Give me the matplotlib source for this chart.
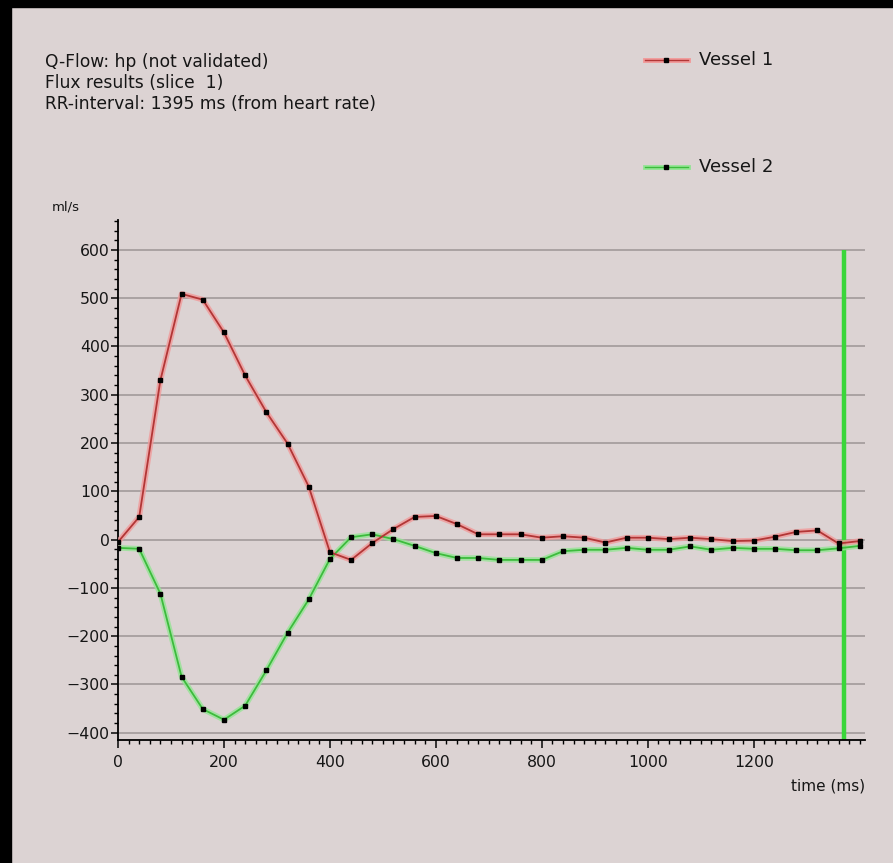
import matplotlib
matplotlib.use("Agg")
import matplotlib.pyplot as plt
from matplotlib.patches import Rectangle
from matplotlib.lines import Line2D
from matplotlib.ticker import MultipleLocator

plt.rcParams["font.family"] = ["DejaVu Sans"]

# phase times (ms)
time_ms = [0, 40, 80, 120, 160, 200, 240, 280, 320, 360, 400, 440,
           480, 520, 560, 600, 640, 680, 720, 760, 800, 840, 880, 920,
           960, 1000, 1040, 1080, 1120, 1160, 1200, 1240, 1280, 1320, 1360, 1400]

# flow (ml/s)
vessel1 = [-5, 47, 330, 509, 497, 429, 340, 264, 199, 110, -26, -42,
           -7, 22, 47, 49, 32, 11, 11, 11, 4, 7, 4, -6,
           4, 4, 1, 4, 1, -3, -2, 6, 16, 19, -8, -3]
vessel2 = [-17, -19, -112, -284, -351, -373, -344, -271, -193, -124, -40, 5,
           11, 1, -13, -28, -38, -38, -42, -42, -42, -24, -21, -21,
           -17, -21, -21, -14, -21, -17, -19, -19, -22, -22, -18, -13]

cursor_time = 1370
cursor_top = 600

header = ["Q-Flow: hp (not validated)",
          "Flux results (slice  1)",
          "RR-interval: 1395 ms (from heart rate)"]
series_names = ["Vessel 1", "Vessel 2"]

BG = "#dcd3d3"
RED_CORE, RED_HALO = "#b23636", "#f19a9a"
GRN_CORE, GRN_HALO = "#3cbc3c", "#95e495"
TXT = "#161616"

W, H = 893, 863
fig = plt.figure(figsize=(W / 100, H / 100), dpi=100)
fig.patch.set_facecolor(BG)

# overlay in pixel coords for frame, header and legend
ov = fig.add_axes([0, 0, 1, 1], zorder=0)
ov.set_xlim(0, W)
ov.set_ylim(H, 0)
ov.axis("off")
ov.add_patch(Rectangle((0, 0), W, 7, color="black"))
ov.add_patch(Rectangle((0, 0), 11, H, color="black"))

for i, t in enumerate(header):
    ov.text(45, 62 + i * 21, t, fontsize=12.3, color=TXT, ha="left", va="center")

for name, y, core, halo in [(series_names[0], 60, RED_CORE, RED_HALO),
                            (series_names[1], 167, GRN_CORE, GRN_HALO)]:
    ov.add_line(Line2D([645, 688], [y, y], color=halo, lw=3.5))
    ov.add_line(Line2D([645, 688], [y, y], color=core, lw=1.0))
    ov.plot([666], [y], "s", color="black", ms=2.2)
    ov.text(699, y, name, fontsize=13, color=TXT, ha="left", va="center")

ov.text(52, 207, "ml/s", fontsize=9.5, color=TXT, ha="left", va="center")
ov.text(828, 786, "time (ms)", fontsize=11, color=TXT, ha="center", va="center")

# main chart
ax = fig.add_axes([118 / W, (H - 740) / H, (865 - 118) / W, 520 / H], zorder=1)
ax.set_facecolor("none")
ax.set_xlim(0, 1410)
ax.set_ylim(-415, 662)

for s in ["top", "right"]:
    ax.spines[s].set_visible(False)
for s in ["left", "bottom"]:
    ax.spines[s].set_color("black")
    ax.spines[s].set_linewidth(1.3)

ax.yaxis.set_major_locator(MultipleLocator(100))
ax.yaxis.set_minor_locator(MultipleLocator(20))
ax.xaxis.set_major_locator(MultipleLocator(200))
ax.xaxis.set_minor_locator(MultipleLocator(20))
ax.set_xticks([0, 200, 400, 600, 800, 1000, 1200])
ax.set_yticks([-400, -300, -200, -100, 0, 100, 200, 300, 400, 500, 600])

ax.tick_params(axis="y", which="major", length=5, width=1.2, pad=1, labelsize=11.3, colors=TXT)
ax.tick_params(axis="y", which="minor", length=3, width=1.0)
ax.tick_params(axis="x", which="major", length=6, width=1.2, pad=5, labelsize=11.3, colors=TXT)
ax.tick_params(axis="x", which="minor", length=3, width=1.0)

ax.yaxis.grid(True, which="major", color="#a69e9e", lw=1.3)
ax.set_axisbelow(True)

# cursor line
ax.vlines(cursor_time, -415, cursor_top, color="#3ad63a", lw=3.2, zorder=2)

for vals, core, halo in [(vessel2, GRN_CORE, GRN_HALO), (vessel1, RED_CORE, RED_HALO)]:
    ax.plot(time_ms, vals, color=halo, lw=4, alpha=0.8, solid_joinstyle="round", zorder=3)
    ax.plot(time_ms, vals, color=core, lw=1.3, zorder=4)
    ax.plot(time_ms, vals, "s", color="black", ms=2.3, zorder=5)

fig.savefig("out.png", dpi=100, facecolor=BG)
